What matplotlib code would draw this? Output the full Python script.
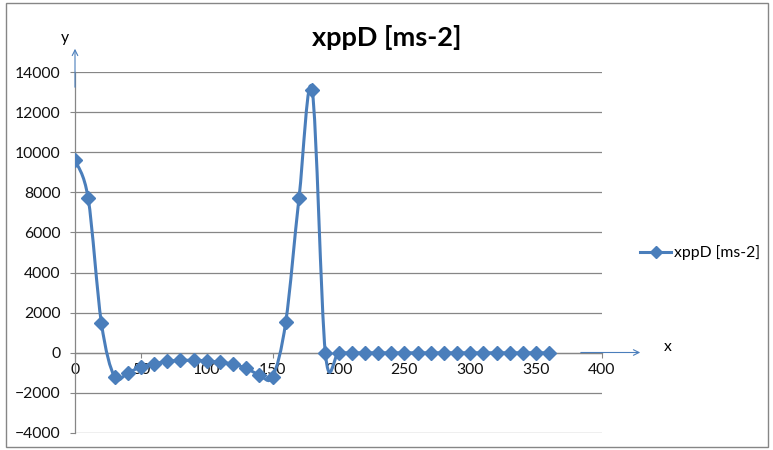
import numpy as np
import matplotlib.pyplot as plt
from matplotlib.path import Path
from matplotlib.patches import PathPatch, Rectangle
from matplotlib.lines import Line2D

plt.rcParams['font.family'] = ['Lato', 'DejaVu Sans']

# crank angle [deg] and acceleration xppD [ms-2]
angle = list(range(0, 370, 10))
xppd = [9600, 7700, 1500, -1200, -1000, -700, -550, -430, -380, -380,
        -400, -480, -560, -780, -1100, -1200, 1550, 7700, 13100,
        0, 0, 0, 0, 0, 0, 0, 0, 0, 0, 0, 0, 0, 0, 0, 0, 0, 0]
xticks = [0, 50, 100, 150, 200, 250, 300, 350, 400]
yticks = [-4000, -2000, 0, 2000, 4000, 6000, 8000, 10000, 12000, 14000]
series_name = "xppD [ms-2]"

blue = '#4a7ebb'
grey = '#868686'
W, H = 773, 450
fs = 11.3


def smooth_path(xs, ys):
    # cubic bezier through every point, tangents like a Catmull-Rom spline
    pts = np.column_stack([xs, ys]).astype(float)
    n = len(pts)
    verts = [pts[0]]
    codes = [Path.MOVETO]
    for i in range(n - 1):
        p0 = pts[max(i - 1, 0)]
        p1 = pts[i]
        p2 = pts[i + 1]
        p3 = pts[min(i + 2, n - 1)]
        verts += [p1 + (p2 - p0) / 6, p2 - (p3 - p1) / 6, p2]
        codes += [Path.CURVE4] * 3
    return Path(verts, codes)


fig = plt.figure(figsize=(W / 100, H / 100), dpi=100)
ax = fig.add_axes([75 / W, 1 - 433 / H, 527 / W, 361 / H])

ax.add_patch(PathPatch(smooth_path(angle, xppd), facecolor='none',
                       edgecolor=blue, lw=2.2, zorder=3))
ax.plot(angle, xppd, linestyle='none', marker='D', markersize=7.5,
        color=blue, zorder=4)

ax.set_xlim(0, 400)
ax.set_ylim(-4000, 14000)
ax.set_xticks(xticks)
ax.set_yticks(yticks)

for s in ('top', 'right'):
    ax.spines[s].set_visible(False)
ax.spines['bottom'].set_position(('data', 0))
ax.spines['left'].set_position(('data', 0))
for s in ('bottom', 'left'):
    ax.spines[s].set_color(grey)
    ax.spines[s].set_linewidth(0.9)

ax.grid(axis='y', color=grey, lw=0.9)
ax.set_axisbelow(True)
ax.tick_params(axis='y', length=3.5, color=grey, pad=7, labelsize=fs,
               labelcolor='#111111')
ax.tick_params(axis='x', length=3.5, color=grey, pad=4, labelsize=fs,
               labelcolor='#111111')

fig.text(0.5, 1 - 37 / H, series_name, ha='center', va='center',
         fontsize=19.5, fontweight='bold')

# axis arrows with their letters
ax.annotate('', xy=(75, H - 46), xytext=(75, H - 90),
            xycoords='figure pixels', textcoords='figure pixels',
            arrowprops=dict(arrowstyle='->', color=blue, lw=0.8))
ax.annotate('', xy=(643, H - 352.5), xytext=(578, H - 352.5),
            xycoords='figure pixels', textcoords='figure pixels',
            arrowprops=dict(arrowstyle='->', color=blue, lw=0.8))
fig.text(65 / W, 1 - 38 / H, 'y', ha='center', va='center', fontsize=fs)
fig.text(668 / W, 1 - 347 / H, 'x', ha='center', va='center', fontsize=fs)

handle = Line2D([], [], color=blue, lw=2.2, marker='D', markersize=6)
fig.legend(handles=[handle], labels=[series_name], loc='center left',
           bbox_to_anchor=(640 / W, 1 - 253 / H), frameon=False,
           borderpad=0, borderaxespad=0, fontsize=fs,
           handlelength=2.0, handletextpad=0.15)

fig.add_artist(Rectangle((6 / W, 3 / H), 762 / W, 444 / H,
                         transform=fig.transFigure, fill=False,
                         edgecolor=grey, lw=1))

fig.savefig('out.png', dpi=100)
